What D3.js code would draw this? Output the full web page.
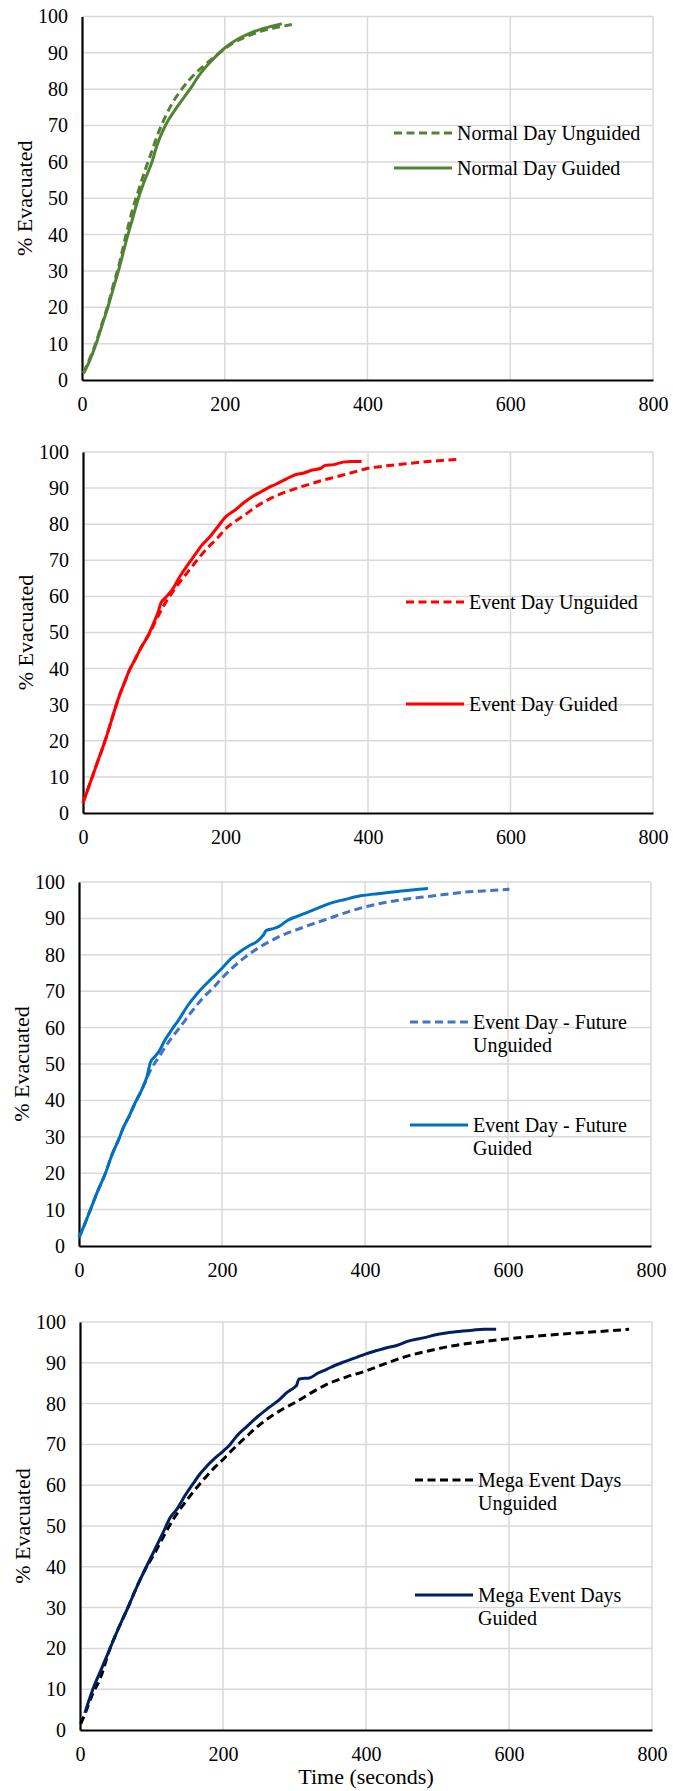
<!DOCTYPE html>
<html>
<head>
<meta charset="utf-8">
<script src="https://cdn.jsdelivr.net/npm/d3@7"></script>
<style>
  body { margin: 0; background: #fff; }
  #viewportContainer { width: 673px; height: 1791px; }
  text { font-family: "Liberation Serif", "Times New Roman", serif; fill: #000; }
</style>
</head>
<body>
<div id="viewportContainer"></div>
<script>
/* --- ticks --- */
const xTicks = [0, 200, 400, 600, 800];
const yTicks = [0, 10, 20, 30, 40, 50, 60, 70, 80, 90, 100];

/* --- series: [time (s), % evacuated] --- */
const normalUnguided = [[2,2],[10,5.5],[19,10],[28,15.5],[37,21],[45,27],[51,31],[57,36],[63,41],[71,47],[79,52],[88,57.5],[98,63],[107,68],[117,72.5],[126,76],[136,79],[150,82.5],[164,85.3],[180,88],[196,90.5],[210,92.5],[225,94],[240,95.2],[255,96.2],[270,96.9],[283,97.4],[294,97.8]];
const normalGuided = [[2,1.8],[10,5],[19,9.5],[28,15],[37,20.5],[45,26],[51,30],[57,34.5],[63,39],[71,44.5],[79,50],[88,55],[98,60],[105,64.5],[112,68],[121,71.5],[131,74.5],[142,77.5],[154,80.8],[163,83.5],[173,86],[185,88.5],[196,90.7],[210,92.8],[225,94.5],[238,95.6],[252,96.6],[266,97.3],[280,98]];

const eventUnguided = [[0,2.8],[13,10],[22,15],[31,20],[39,25],[46,29.5],[52,33],[58,36],[65,39.5],[73,42.5],[82,46],[94,50],[104,54],[115,58],[125,61],[136,64],[148,67],[160,70],[175,73.5],[188,76],[199,78.5],[215,81],[230,83],[244,85],[260,86.8],[275,88.2],[290,89.3],[305,90.3],[320,91.2],[337,92.2],[353,93],[370,93.9],[385,94.7],[400,95.5],[420,96],[440,96.5],[460,96.9],[480,97.3],[500,97.6],[524,97.9]];
const eventGuided = [[0,2.8],[13,10],[22,15],[31,20],[39,25],[46,29.5],[52,33],[58,36],[65,39.5],[73,42.5],[82,46],[91,49],[100,53],[106,56],[109,58],[115,59.5],[124,61.5],[136,65.5],[148,69],[157,71.5],[166,74],[178,76.5],[190,79.5],[199,81.8],[214,84],[226,86],[238,87.7],[250,89],[259,90],[270,91],[285,92.5],[298,93.7],[310,94.2],[322,95],[334,95.5],[340,96.3],[352,96.5],[365,97.2],[378,97.4],[391,97.4]];

const futureUnguided = [[0,2.3],[8,6],[16,10],[26,15],[37,20],[46,25],[55,29],[62,32.5],[70,35.6],[79,39.5],[88,43],[100,48.3],[112,52],[127,56.5],[142,60.3],[158,64.5],[175,68.5],[188,71],[200,73.6],[215,76.5],[232,79.3],[250,81.8],[268,83.8],[288,85.7],[310,87.3],[333,88.9],[350,90],[370,91.4],[395,92.9],[419,94],[448,95],[478,95.8],[508,96.5],[539,97.2],[570,97.6],[602,98]];
const futureGuided = [[0,2.3],[8,6],[16,10],[26,15],[37,20],[46,25],[55,29],[62,32.5],[70,35.6],[79,39.5],[88,43],[95,46.5],[100,50.5],[106,52],[112,53.5],[120,56.5],[130,59.5],[139,62],[152,66],[166,69.5],[183,73],[200,76.3],[213,79],[226,81],[238,82.5],[250,83.8],[258,85.5],[262,86.7],[272,87.2],[280,87.8],[292,89.5],[304,90.5],[316,91.4],[334,92.8],[352,94.2],[372,95.2],[394,96.2],[418,96.8],[442,97.3],[465,97.8],[488,98.2]];

const megaUnguided = [[1,1.5],[7,4],[18,9],[28,12.5],[42,20],[54,25],[67,30],[78,34.5],[90,39],[105,43.5],[117,47.5],[130,51.5],[145,55.3],[159,58.5],[175,61.8],[188,64.3],[200,66.3],[215,69],[232,71.8],[249,74.5],[265,76.6],[282,78.5],[300,80.2],[322,82.5],[345,84.7],[372,86.5],[400,88],[430,90],[459,91.7],[490,93],[519,94.1],[560,95.1],[600,95.9],[635,96.5],[670,97],[720,97.6],[768,98.2]];
const megaGuided = [[7,4.2],[12,7],[18,10],[30,15],[42,20],[54,25],[67,30],[78,34.5],[90,39],[104,44],[117,48.7],[126,52],[135,54],[147,57.5],[159,60.6],[168,62.8],[177,64.6],[188,66.5],[200,68.3],[210,70],[219,72],[234,74.5],[249,76.9],[264,79],[279,81],[290,82.8],[300,84],[303,84.5],[306,86],[314,86.2],[321,86.3],[333,87.5],[345,88.4],[357,89.4],[369,90.2],[385,91.2],[400,92.2],[415,93],[429,93.7],[444,94.3],[459,95.3],[480,96.1],[501,97],[525,97.6],[549,98],[565,98.2],[582,98.2]];

/* --- legend labels --- */
const labelsNormal = [["Normal Day Unguided"], ["Normal Day Guided"]];
const labelsEvent = [["Event Day Unguided"], ["Event Day Guided"]];
const labelsFuture = [["Event Day - Future", "Unguided"], ["Event Day - Future", "Guided"]];
const labelsMega = [["Mega Event Days", "Unguided"], ["Mega Event Days", "Guided"]];

const width = 673, height = 1791;

const svg = d3
  .select("#viewportContainer")
  .append("svg")
  .attr("width", width)
  .attr("height", height);

svg.append("rect").attr("width", width).attr("height", height).attr("fill", "#fff");

/* --- one panel --- */
let drawPanel = function (p) {
  const x = d3.scaleLinear().domain([0, 800]).range([p.left, p.right]);
  const y = d3.scaleLinear().domain([0, 100]).range([p.bottom, p.top]);
  const g = svg.append("g");

  // gridlines
  g.selectAll(".hgrid")
    .data(yTicks.slice(1))
    .enter()
    .append("line")
    .attr("x1", p.left)
    .attr("x2", p.right)
    .attr("y1", (d) => y(d))
    .attr("y2", (d) => y(d))
    .attr("stroke", "#d9d9d9")
    .attr("stroke-width", 1.5);

  g.selectAll(".vgrid")
    .data(xTicks.slice(1))
    .enter()
    .append("line")
    .attr("x1", (d) => x(d))
    .attr("x2", (d) => x(d))
    .attr("y1", p.top)
    .attr("y2", p.bottom)
    .attr("stroke", "#d9d9d9")
    .attr("stroke-width", 1.5);

  // axes (no tick marks)
  const yAxis = g
    .append("g")
    .attr("transform", `translate(${p.left},0)`)
    .call(d3.axisLeft(y).tickValues(yTicks).tickSize(0).tickPadding(14));
  const xAxis = g
    .append("g")
    .attr("transform", `translate(0,${p.bottom})`)
    .call(d3.axisBottom(x).tickValues(xTicks).tickSize(0).tickPadding(17));

  [yAxis, xAxis].forEach((a) => {
    a.select(".domain").attr("stroke", "#000").attr("stroke-width", 2.2);
    a.selectAll("text")
      .attr("font-family", '"Liberation Serif", "Times New Roman", serif')
      .attr("font-size", "20px")
      .attr("fill", "#000");
  });

  // y title
  g.append("text")
    .attr("transform", `translate(${p.left - 58},${(p.top + p.bottom) / 2}) rotate(-90)`)
    .attr("text-anchor", "middle")
    .attr("dominant-baseline", "central")
    .attr("font-size", "22px")
    .text("% Evacuated");

  if (p.xTitle) {
    g.append("text")
      .attr("x", (p.left + p.right) / 2)
      .attr("y", p.bottom + 46)
      .attr("text-anchor", "middle")
      .attr("dominant-baseline", "central")
      .attr("font-size", "22px")
      .text(p.xTitle);
  }

  // series
  const line = d3
    .line()
    .x((d) => x(d[0]))
    .y((d) => y(d[1]))
    .curve(d3.curveMonotoneX);

  p.series.forEach((s) => {
    g.append("path")
      .datum(s.data)
      .attr("fill", "none")
      .attr("stroke", s.color)
      .attr("stroke-width", 3)
      .attr("stroke-dasharray", s.dash ? "8,4.5" : null)
      .attr("stroke-linejoin", "round")
      .attr("d", line);
  });

  // legend
  p.series.forEach((s, i) => {
    const ly = p.legendY[i];
    g.append("line")
      .attr("x1", p.legendX)
      .attr("x2", p.legendX + 58)
      .attr("y1", ly)
      .attr("y2", ly)
      .attr("stroke", s.color)
      .attr("stroke-width", 3)
      .attr("stroke-dasharray", s.dash ? "8,4.5" : null);
    s.label.forEach((t, k) => {
      g.append("text")
        .attr("x", p.legendX + 63)
        .attr("y", ly + k * 23)
        .attr("dominant-baseline", "central")
        .attr("font-size", "20px")
        .text(t);
    });
  });
};

drawPanel({
  left: 82, right: 653, top: 16.5, bottom: 380,
  legendX: 394, legendY: [133, 168],
  series: [
    { data: normalUnguided, color: "#548235", dash: true, label: labelsNormal[0] },
    { data: normalGuided, color: "#548235", dash: false, label: labelsNormal[1] }
  ]
});

drawPanel({
  left: 83, right: 653, top: 452, bottom: 813,
  legendX: 406, legendY: [602, 704],
  series: [
    { data: eventUnguided, color: "#ff0000", dash: true, label: labelsEvent[0] },
    { data: eventGuided, color: "#ff0000", dash: false, label: labelsEvent[1] }
  ]
});

drawPanel({
  left: 79, right: 651, top: 882, bottom: 1246,
  legendX: 410, legendY: [1022, 1125],
  series: [
    { data: futureUnguided, color: "#4472c4", dash: true, label: labelsFuture[0] },
    { data: futureGuided, color: "#0070c0", dash: false, label: labelsFuture[1] }
  ]
});

drawPanel({
  left: 80, right: 652, top: 1322, bottom: 1730,
  legendX: 415, legendY: [1480, 1595],
  xTitle: "Time (seconds)",
  series: [
    { data: megaUnguided, color: "#000000", dash: true, label: labelsMega[0] },
    { data: megaGuided, color: "#002060", dash: false, label: labelsMega[1] }
  ]
});
</script>
</body>
</html>
